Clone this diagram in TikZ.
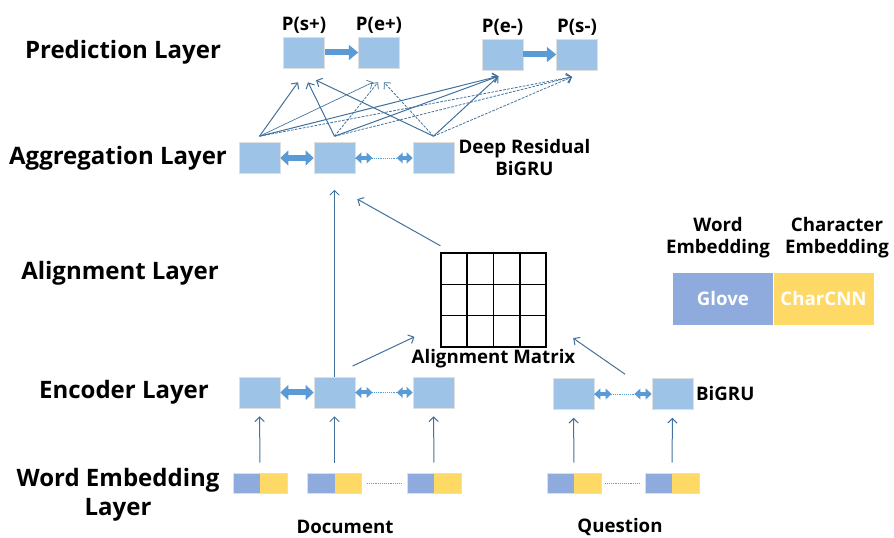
\documentclass[tikz,border=0pt]{standalone}
\usepackage{fontspec}
\setmainfont{Open Sans}
\usetikzlibrary{arrows.meta,positioning,calc}
\definecolor{boxblue}{HTML}{9DC3E6}
\definecolor{embblue}{HTML}{8FAADC}
\definecolor{embyel}{HTML}{FFD966}
\definecolor{linkblue}{HTML}{41719C}
\definecolor{fatblue}{HTML}{5B9BD5}
\begin{document}
\begin{tikzpicture}[x=0.75pt,y=-0.75pt,
	cell/.style={fill=boxblue,draw=gray!25,minimum width=30.75pt,minimum height=23.25pt,inner sep=0pt},
	emb/.style={draw=gray!25,minimum width=40.5pt,minimum height=15pt,inner sep=0pt,
		path picture={\fill[embblue] (path picture bounding box.south west) rectangle (path picture bounding box.north);
			\fill[embyel] (path picture bounding box.south) rectangle (path picture bounding box.north east);}},
	layer/.style={font=\bfseries\fontsize{18}{22}\selectfont,align=center},
	lbl/.style={font=\bfseries\fontsize{14}{16.5}\selectfont,align=center,inner sep=1pt},
	link/.style={draw=linkblue,line width=0.75pt,-{Straight Barb[length=3.5pt,width=7pt]}},
	dlink/.style={link,line width=0.6pt,dash pattern=on 2pt off 1pt},
	fat/.style={draw=fatblue,line width=4.5pt,-{Triangle[length=7pt,width=11pt]}},
	fatdbl/.style={draw=fatblue,line width=4.5pt,{Triangle[length=6pt,width=11pt]}-{Triangle[length=6pt,width=11pt]}},
	smalldbl/.style={draw=fatblue,line width=3pt,{Triangle[length=4.5pt,width=8pt]}-{Triangle[length=4.5pt,width=8pt]}},
	dotl/.style={draw=fatblue,densely dotted,thin}]
\useasboundingbox (0,0) rectangle (894,538);

% layer names
\node[layer] (lpred) at (123,52) {Prediction Layer};
\node[layer] (lagg) at (118,158) {Aggregation Layer};
\node[layer] (lali) at (120,273) {Alignment Layer};
\node[layer] (lenc) at (124,392) {Encoder Layer};
\node[layer] (lemb) at (118,495) {Word Embedding\\Layer};

% prediction layer
\node[cell] (ps) at (304,52.5) {};
\node[cell] (pe) at (379,52.5) {};
\node[cell] (pem) at (502.5,54.5) {};
\node[cell] (psm) at (577,54.5) {};
\node[lbl,above=1pt of ps] {P(s+)};
\node[lbl,above=1pt of pe] {P(e+)};
\node[lbl,above=1pt of pem] {P(e-)};
\node[lbl,above=1pt of psm] {P(s-)};
\draw[fat] (ps) -- (pe);
\draw[fat] (pem) -- (psm);

% aggregation layer
\node[cell] (a1) at (259.5,158) {};
\node[cell] (a2) at (334.5,158) {};
\node[cell] (a3) at (433.5,158) {};
\node[lbl,right=2pt of a3] (deep) {Deep Residual\\BiGRU};
\draw[fatdbl] (a1) -- (a2);
\draw[dotl] (a2) -- (a3);
\draw[smalldbl] (a2.east) -- ++(13pt,0);
\draw[smalldbl] (a3.west) -- ++(-12pt,0);

% aggregation -> prediction
\draw[link] ([yshift=4.5pt]a1.north) -- ([xshift=-4.5pt,yshift=-10.5pt]ps.south);
\draw[link] ([yshift=4.5pt]a2.north) -- ([xshift=3pt,yshift=-10.5pt]ps.south);
\draw[link] ([yshift=4.5pt]a3.north) -- ([xshift=9pt,yshift=-9pt]ps.south);
\draw[link,line width=0.5pt] ([yshift=4.5pt]a1.north) -- ([xshift=-4.5pt,yshift=-10.5pt]pe.south);
\draw[dlink] ([yshift=4.5pt]a2.north) -- ([xshift=-0.75pt,yshift=-10.5pt]pe.south);
\draw[dlink] ([yshift=4.5pt]a3.north) -- ([xshift=3.75pt,yshift=-10.5pt]pe.south);
\foreach \a in {a1,a2,a3}{
	\draw[link] ([yshift=4.5pt]\a.north) -- ([xshift=-3pt,yshift=-4.5pt]pem.south);
	\draw[dlink] ([yshift=4.5pt]\a.north) -- ([xshift=-3.75pt,yshift=-5pt]psm.south);
}

% alignment matrix
\node[minimum width=78.75pt,minimum height=70.5pt,inner sep=0pt,draw,thick] (m) at (493.5,300) {};
\foreach \i in {1,2,3}
	\draw[thick] ($(m.north west)!\i/4!(m.north east)$) -- ($(m.south west)!\i/4!(m.south east)$);
\foreach \i in {1,2}
	\draw[thick] ($(m.north west)!\i/3!(m.south west)$) -- ($(m.north east)!\i/3!(m.south east)$);
\node[lbl,below=0pt of m] (mlbl) {Alignment Matrix};

% encoder layer
\node[cell] (e1) at (259.5,392.5) {};
\node[cell] (e2) at (334.5,392.5) {};
\node[cell] (e3) at (433.5,392.5) {};
\node[cell] (q1) at (573.5,394) {};
\node[cell] (q2) at (672.5,394) {};
\node[lbl,right=1pt of q2] (bigru) {BiGRU};
\draw[fatdbl] (e1) -- (e2);
\draw[dotl] (e2) -- (e3);
\draw[smalldbl] (e2.east) -- ++(13pt,0);
\draw[smalldbl] (e3.west) -- ++(-12pt,0);
\draw[dotl] (q1) -- (q2);
\draw[smalldbl] (q1.east) -- ++(13pt,0);
\draw[smalldbl] (q2.west) -- ++(-13pt,0);

% encoder -> alignment / aggregation
\draw[link] (e2.north) -- ([yshift=-12pt]a2.south);
\draw[link] ([xshift=-2pt,yshift=8pt]e2.north east) -- ([xshift=-19.5pt,yshift=8pt]m.south west);
\draw[link] ([xshift=-20pt,yshift=3pt]q2.north west) -- ([xshift=20pt,yshift=7pt]m.south east);
\draw[link] ([yshift=5pt]m.north west) -- ([xshift=1.5pt,yshift=-19pt]a2.south east);

% word embeddings
\node[emb] (d1) at (260,483) {};
\node[emb] (d2) at (334.5,483) {};
\node[emb] (d3) at (434,483) {};
\node[emb] (qd1) at (574,483) {};
\node[emb] (qd2) at (672,483) {};
\draw[dotl,shorten <=4pt,shorten >=4pt] (d2) -- (d3);
\draw[dotl,shorten <=3pt,shorten >=3pt] (qd1) -- (qd2);
\foreach \d/\e in {d1/e1,d2/e2,d3/e3,qd1/q1,qd2/q2}
	\draw[link,shorten <=7.5pt,shorten >=6pt] (\d) -- (\e);
\node[lbl] (doc) at (345,527) {Document};
\node[lbl] (que) at (620,527) {Question};

% legend
\node[fill=embblue,minimum width=75pt,minimum height=39pt,inner sep=0pt,text=white,lbl] (gl) at (723,299) {Glove};
\node[fill=embyel,minimum width=75pt,minimum height=39pt,inner sep=0pt,text=white,lbl,right=0pt of gl] (cc) {CharCNN};
\node[lbl] (wlbl) at (718,238) {Word\\Embedding};
\node[lbl] (clbl) at (837,238) {Character\\Embedding};
\end{tikzpicture}
\end{document}
